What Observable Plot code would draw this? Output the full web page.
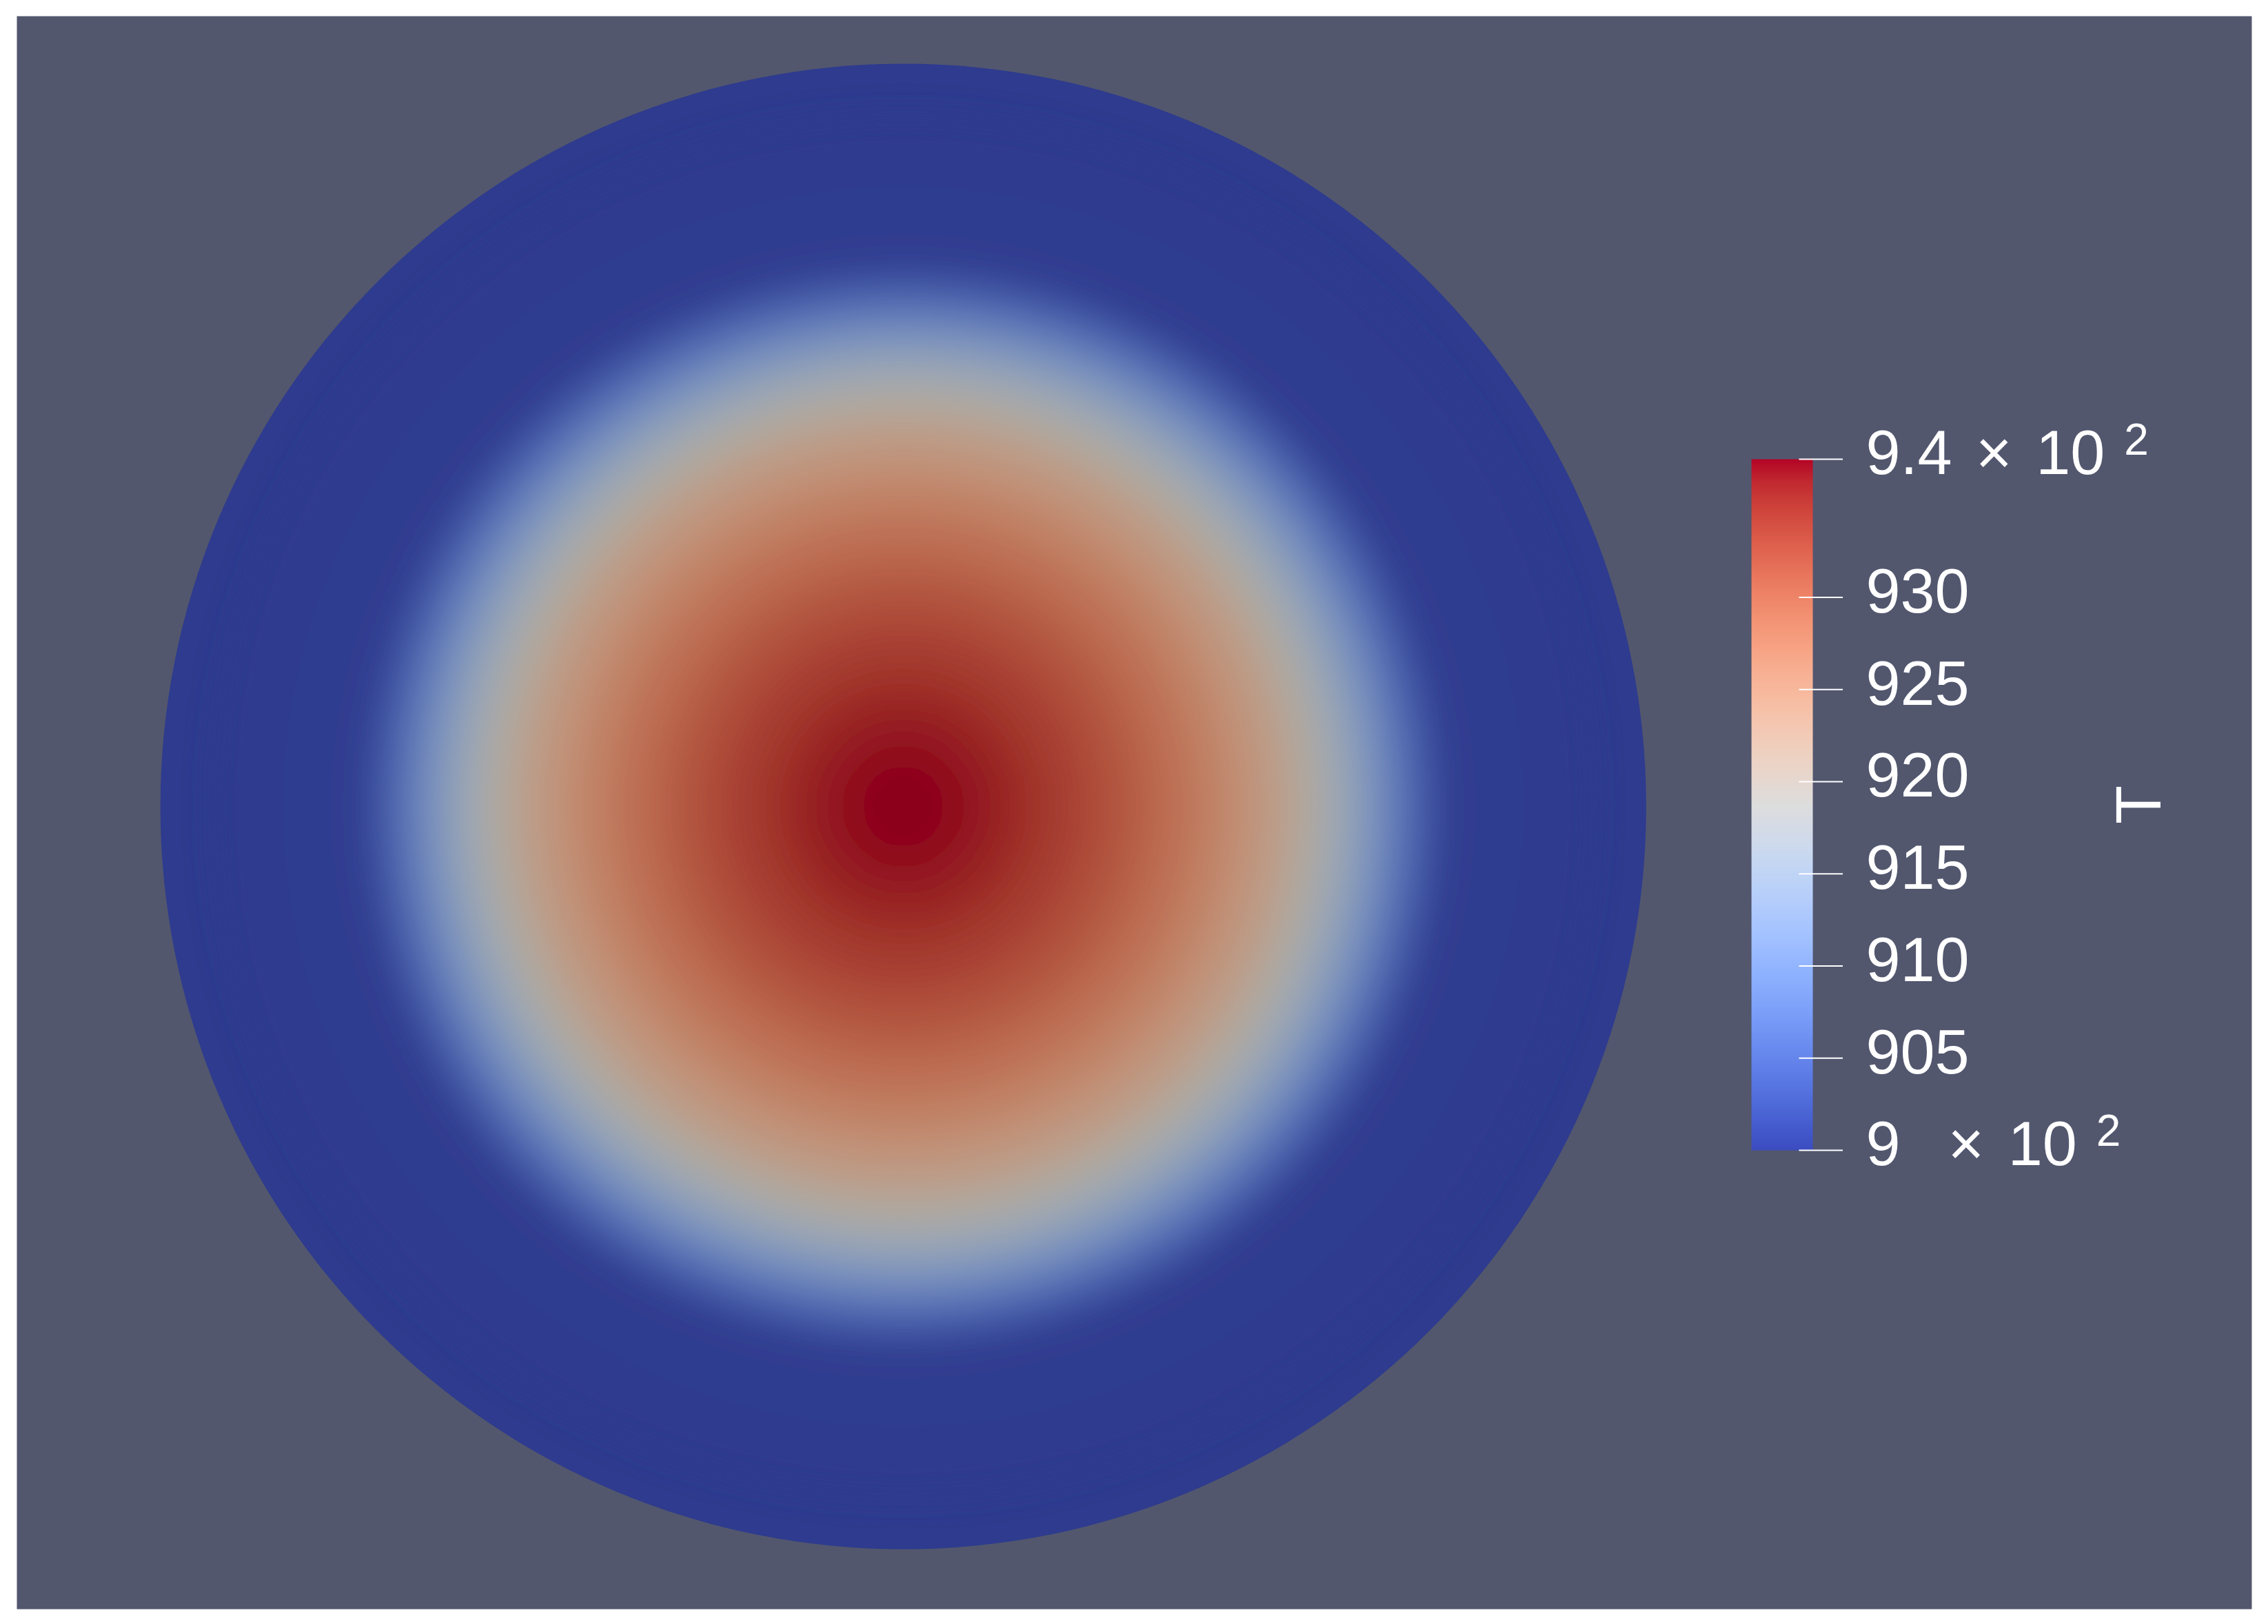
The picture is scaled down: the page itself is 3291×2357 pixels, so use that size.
<!DOCTYPE html>
<html><head><meta charset="utf-8">
<script src="https://cdn.jsdelivr.net/npm/d3@7"></script>
<script src="https://cdn.jsdelivr.net/npm/@observablehq/plot@0.6"></script>
<style>
html,body{margin:0;padding:0;background:#fff;}
#chart{position:relative;width:3291px;height:2357px;background:#fff;}
#chart svg{position:absolute;left:0;top:0;}
</style></head><body><div id="chart"></div>
<script>
// Radial temperature profile (radius as a fraction of the disk radius)
const radius = [0.000,0.028,0.056,0.083,0.111,0.139,0.167,0.195,0.223,0.250,0.278,0.306,0.334,0.362,0.390,0.417,0.445,0.473,0.501,0.519,0.538,0.557,0.575,0.594,0.612,0.631,0.649,0.668,0.686,0.705,0.724,0.742,0.770,0.835,0.928,1.000];
const temperature = [937.5,937.5,937.4,937.1,936.7,936.2,935.5,934.8,934.1,933.3,932.5,931.6,930.6,929.6,928.5,927.3,926.0,924.6,923.0,921.8,920.5,919.1,917.6,915.9,914.1,912.2,910.2,908.1,906.0,903.9,902.0,900.6,900.3,900.2,900.1,900.0];

// Colour bar
const tMin = 900, tMax = 937.5;
const tickValues = [900, 905, 910, 915, 920, 925, 930, 937.5];
const tickLabels = ["9\u00a0\u00a0\u00d7 10", "905", "910", "915", "920", "925", "930", "9.4 \u00d7 10"];
const tickExponents = ["2", "", "", "", "", "", "", "2"];
const titleText = "T";

// ParaView "Cool to Warm" colour map stops
const coolwarmStops = [[59,76,192],[68,90,204],[77,104,215],[87,117,225],[98,130,234],[108,142,241],[119,154,247],[130,165,251],[141,176,254],[152,185,255],[163,194,255],[174,201,253],[184,208,249],[194,213,244],[204,217,238],[213,219,230],[221,221,221],[229,216,209],[236,211,197],[241,204,185],[245,196,173],[247,187,160],[247,177,148],[247,166,135],[244,154,123],[241,141,111],[236,127,99],[229,112,88],[222,96,77],[213,80,66],[203,62,56],[192,40,47],[180,4,38]];
function coolwarmRGB(t){
  t = Math.max(0, Math.min(1, t));
  const n = coolwarmStops.length - 1;
  const s = t * n;
  const i = Math.min(n - 1, Math.floor(s));
  const f = s - i;
  const a = coolwarmStops[i], b = coolwarmStops[i + 1];
  return [0,1,2].map(k => a[k] + (b[k] - a[k]) * f);
}
const toRGB = c => "rgb(" + c.map(v => Math.round(Math.max(0, Math.min(255, v)))).join(",") + ")";
const coolwarm = t => toRGB(coolwarmRGB(t));
const shadeFactor = [0.78, 0.77, 0.74];
const shaded = t => toRGB(coolwarmRGB(t).map((v, k) => v * shadeFactor[k]));

const profile = radius.map((r, i) => ({r, T: temperature[i]}));
const outerRim = profile.filter(d => d.r === d3.max(radius));
const innerRings = profile.filter(d => d.r < d3.max(radius));

const W = 3291, H = 2357;
const font = "'Liberation Sans', Arial, sans-serif";

const main = Plot.plot({
  width: W, height: H,
  marginLeft: 24, marginRight: 24, marginTop: 23, marginBottom: 22,
  style: {background: "transparent", overflow: "visible"},
  x: {domain: [-1.193, 1.815], axis: null},
  y: {domain: [-1.0807, 1.064], axis: null},
  r: {type: "linear", domain: [0, 1], range: [0, 1078]},
  color: {type: "linear", domain: [tMin, tMax], interpolate: shaded},
  marks: [
    Plot.frame({fill: "#52576e", stroke: "none"}),
    Plot.dot(outerRim, {x: 0, y: 0, r: "r", fill: "T", stroke: "none"}),
    Plot.dot(innerRings, {x: 0, y: 0, r: "r", fill: "T", stroke: "none", sort: {channel: "-r"}})
  ]
});

// smooth the stepped rings of the field (rendering only)
const defs = d3.select(main).insert("defs", ":first-child");
defs.append("filter").attr("id", "smoothField")
  .attr("x", "-10%").attr("y", "-10%").attr("width", "120%").attr("height", "120%")
  .append("feGaussianBlur").attr("stdDeviation", 20);
d3.select(main).selectAll('g[aria-label="dot"]').filter((d, i) => i === 1).attr("filter", "url(#smoothField)");

const legend = Plot.plot({
  width: W, height: H,
  marginTop: 666, marginBottom: H - 1669, marginLeft: 2541, marginRight: W - 2630,
  style: {background: "transparent", overflow: "visible"},
  x: {domain: [0, 1], axis: null},
  y: {domain: [tMin, tMax], axis: null},
  color: {type: "linear", domain: [tMin, tMax], interpolate: coolwarm},
  marks: [
    Plot.raster({fill: (x, y) => y, x1: 0, x2: 1, y1: tMin, y2: tMax, pixelSize: 1}),
    Plot.ruleY(tickValues, {x1: 0.78, x2: 1.494, stroke: "white", strokeWidth: 2}),
    Plot.text(tickValues, {x: 1, y: d => d, dx: 77, dy: -7, text: (d, i) => tickLabels[i], textAnchor: "start", lineAnchor: "middle", fontSize: 90, fontFamily: font, fill: "white"}),
    Plot.text([titleText], {x: 1, y: (tMin + tMax) / 2, dx: 475, text: d => d, rotate: -90, fontSize: 92, fontFamily: font, fill: "white"})
  ]
});

d3.select(legend).selectAll("text").each(function(){
  const i = tickLabels.indexOf(this.textContent);
  if (i >= 0) {
    d3.select(this).style("word-spacing", "9.5px");
    if (tickExponents[i]) {
      d3.select(this).append("tspan").attr("dx", 28).attr("dy", -28).attr("font-size", 64).text(tickExponents[i]);
    }
  }
});

const chart = document.getElementById("chart");
chart.appendChild(main);
chart.appendChild(legend);
</script></body></html>
